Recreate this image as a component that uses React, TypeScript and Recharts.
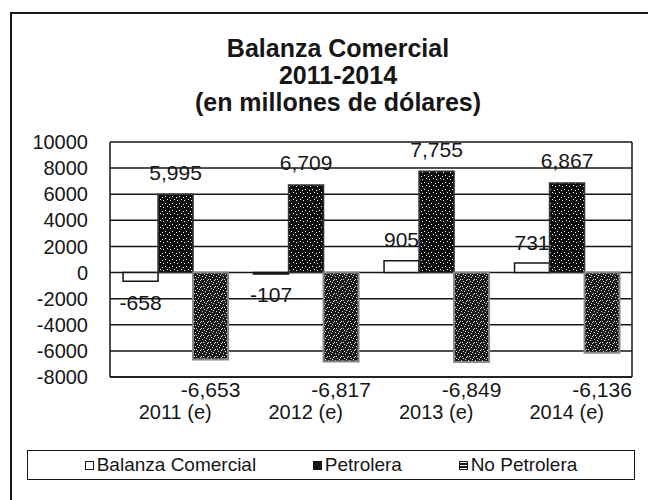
import { BarChart, Bar, XAxis, YAxis, CartesianGrid, LabelList } from 'recharts'

// Balanza comercial 2011-2014, scanned Excel-style chart with speckled bars.

const years = ['2011 (e)', '2012 (e)', '2013 (e)', '2014 (e)']
const balanza = [-658, -107, 905, 731]
const petrolera = [5995, 6709, 7755, 6867]
const noPetrolera = [-6653, -6817, -6849, -6136]
const yTicks = [-8000, -6000, -4000, -2000, 0, 2000, 4000, 6000, 8000, 10000]
const titleLines = ['Balanza Comercial', '2011-2014', '(en millones de dólares)']
const seriesNames = ['Balanza Comercial', 'Petrolera', 'No Petrolera']

const data = years.map((year, i) => ({
  year,
  balanza: balanza[i],
  petrolera: petrolera[i],
  noPetrolera: noPetrolera[i],
}))

const FONT = '"Liberation Sans", Arial, sans-serif'
const INK = '#161616'
const Y_MIN = yTicks[0]

// speckle dots for the scanned-looking fills
const specks = [[1, 1], [4, 0], [6, 3], [2, 4], [5, 6], [0, 6], [3, 2]]

const fmt = (v: number) => v.toLocaleString('en-US')

const labelText = (x: number, y: number, v: number) => (
  <text x={x} y={y} textAnchor="middle" dominantBaseline="central"
    fontFamily={FONT} fontSize={21} fill={INK}>
    {fmt(v)}
  </text>
)

// label pushed outside the end of the bar (above for positive, below for negative)
function outside(offset: number) {
  return (p: any) => {
    const { x, y, width, height, value } = p
    const top = Math.min(y, y + height)
    const bottom = Math.max(y, y + height)
    return labelText(x + width / 2, value < 0 ? bottom + offset : top - offset, value)
  }
}

// label sitting just under the plot floor (the axis minimum), like the original
function underFloor(gap: number) {
  return (p: any) => {
    const { x, y, width, height, value } = p
    const zero = Math.min(y, y + height)
    const pxPerUnit = Math.abs(height) / Math.abs(value)
    const floor = zero + Math.abs(Y_MIN) * pxPerUnit
    return labelText(x + width / 2, floor + gap, value)
  }
}

function Swatch({ i }: { i: number }) {
  const common = { width: 9, height: 9, display: 'inline-block', marginRight: 3, boxSizing: 'border-box' as const }
  if (i === 0) return <span style={{ ...common, border: `1.5px solid ${INK}`, background: '#fff' }} />
  if (i === 1) return <span style={{ ...common, background: INK }} />
  return <span style={{ ...common, border: `1.5px solid ${INK}`, background: `repeating-linear-gradient(#fff 0 1px, ${INK} 1px 3px)` }} />
}

export default function App() {
  return (
    <div style={{ position: 'absolute', left: 0, top: 0, width: 648, height: 500, background: '#fff', overflow: 'hidden' }}>
      <svg width={0} height={0} style={{ position: 'absolute' }}>
        <defs>
          <pattern id="pet" width={7} height={7} patternUnits="userSpaceOnUse">
            <rect width={7} height={7} fill="#0c0c0c" />
            {specks.slice(0, 4).map(([sx, sy], k) => (
              <rect key={k} x={sx} y={sy} width={1} height={1} fill="#fff" />
            ))}
          </pattern>
          <pattern id="nopet" width={7} height={7} patternUnits="userSpaceOnUse">
            <rect width={7} height={7} fill="#1a1a1a" />
            {specks.map(([sx, sy], k) => (
              <rect key={k} x={sx} y={sy} width={1} height={1} fill="#ddd" />
            ))}
          </pattern>
        </defs>
      </svg>

      {/* scanned frame: only top and left edges are inside the picture */}
      <div style={{ position: 'absolute', left: 10, top: 12, right: -10, bottom: -10, borderLeft: `2px solid ${INK}`, borderTop: `2px solid ${INK}` }} />

      <div style={{ position: 'absolute', left: 10, width: 656, top: 35, textAlign: 'center', fontFamily: FONT, fontWeight: 'bold', fontSize: 25, lineHeight: '27px', color: INK }}>
        {titleLines.map((t) => <div key={t}>{t}</div>)}
      </div>

      <div style={{ position: 'absolute', left: 0, top: 0 }}>
        <BarChart width={648} height={500} data={data}
          margin={{ top: 142, right: 16, bottom: 63, left: 50 }}
          barCategoryGap="10%" barGap={0}>
          <CartesianGrid vertical stroke={INK} strokeWidth={1.5}
            verticalCoordinatesGenerator={({ offset }: any) => [offset.left, offset.left + offset.width]} />
          <XAxis dataKey="year" height={60} tickLine={false} tickSize={0} tickMargin={28}
            axisLine={{ stroke: INK, strokeWidth: 1.5 }}
            tick={{ fontFamily: FONT, fontSize: 20, fill: INK }} />
          <YAxis width={60} domain={[Y_MIN, yTicks[yTicks.length - 1]]} ticks={yTicks} interval={0}
            tickLine={false} tickSize={0} tickMargin={22} axisLine={false}
            tick={{ fontFamily: FONT, fontSize: 20, fill: INK }} />
          <Bar dataKey="balanza" name={seriesNames[0]} fill="#fff" stroke={INK} strokeWidth={1.5} isAnimationActive={false}>
            <LabelList dataKey="balanza" content={outside(21)} />
          </Bar>
          <Bar dataKey="petrolera" name={seriesNames[1]} fill="url(#pet)" stroke="#333" strokeWidth={1.5} isAnimationActive={false}>
            <LabelList dataKey="petrolera" content={outside(22)} />
          </Bar>
          <Bar dataKey="noPetrolera" name={seriesNames[2]} fill="url(#nopet)" stroke="#888" strokeWidth={2} isAnimationActive={false}>
            <LabelList dataKey="noPetrolera" content={underFloor(12)} />
          </Bar>
        </BarChart>
      </div>

      <div style={{ position: 'absolute', left: 27, top: 450, width: 608, height: 30, boxSizing: 'border-box', border: `1.5px solid ${INK}`, display: 'flex', alignItems: 'center', justifyContent: 'space-evenly', fontFamily: FONT, fontSize: 19, color: INK }}>
        {seriesNames.map((n, i) => (
          <span key={n} style={{ display: 'flex', alignItems: 'center' }}>
            <Swatch i={i} />{n}
          </span>
        ))}
      </div>
    </div>
  )
}
